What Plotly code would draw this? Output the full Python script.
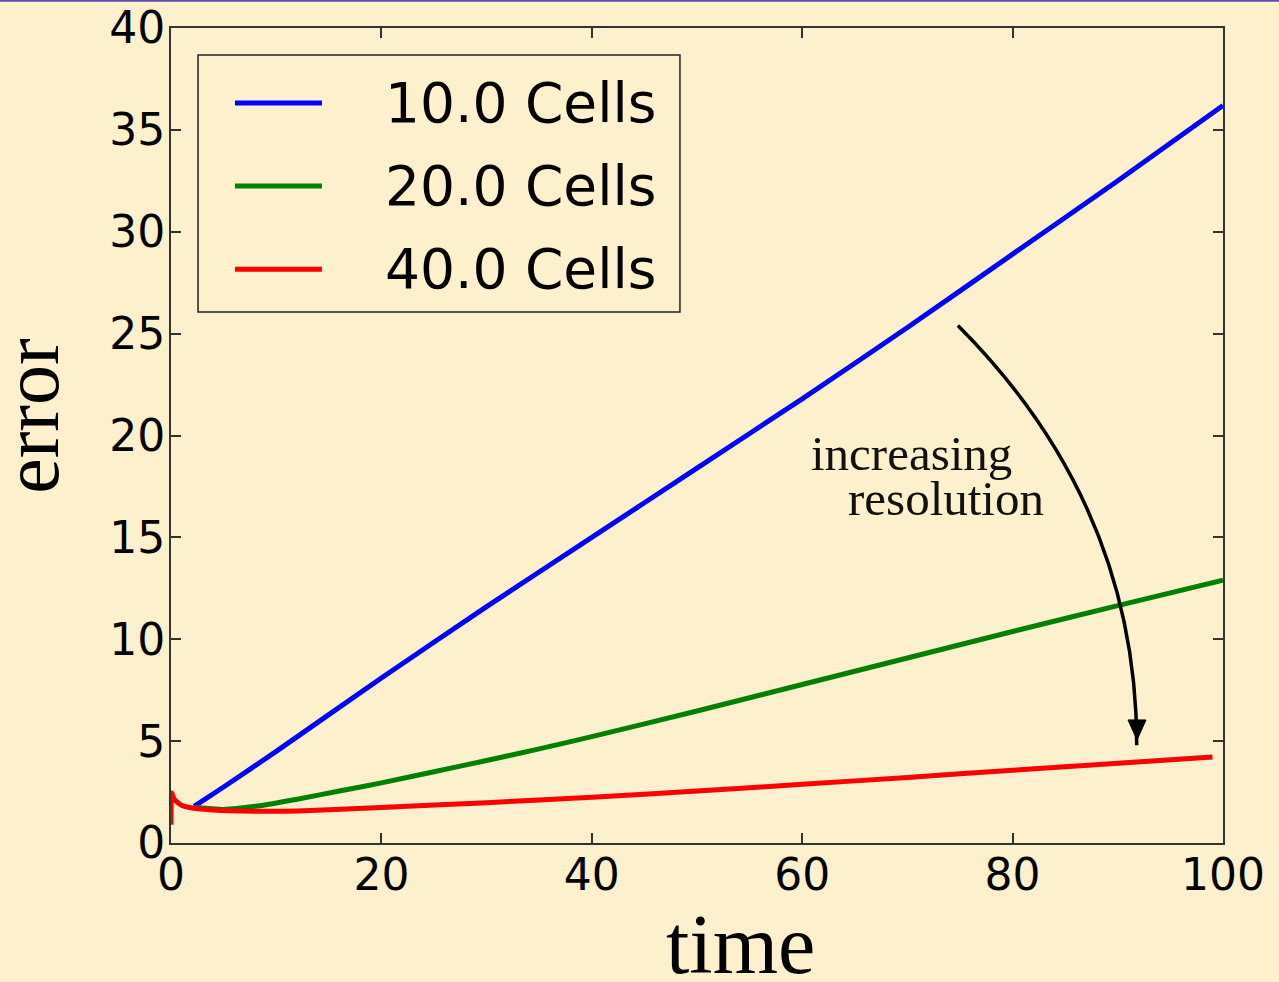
import plotly.graph_objects as go

# ---- data ----
series_names = ["10.0 Cells", "20.0 Cells", "40.0 Cells"]
series_colors = ["#0000FF", "#008000", "#FF0000"]

t_blue = [2.2, 5, 10, 20, 30, 40, 50, 60, 70, 80, 90, 100]
e_blue = [1.8, 2.75, 4.5, 8.1, 11.6, 15.0, 18.4, 21.8, 25.3, 28.9, 32.5, 36.2]

t_green = [2.2, 5, 8, 12, 16, 20, 25, 30, 35, 40, 50, 60, 70, 80, 90, 100]
e_green = [1.75, 1.65, 1.8, 2.15, 2.55, 2.95, 3.5, 4.05, 4.62, 5.22, 6.48, 7.78, 9.08, 10.38, 11.65, 12.9]

t_red = [0.0, 0.08, 0.3, 1, 2, 4, 8, 12, 20, 30, 40, 50, 60, 70, 80, 90, 99]
e_red = [0.9, 2.45, 2.15, 1.85, 1.72, 1.62, 1.56, 1.57, 1.74, 1.98, 2.24, 2.55, 2.88, 3.22, 3.57, 3.91, 4.22]

x_ticks = [0, 20, 40, 60, 80, 100]
y_ticks = [0, 5, 10, 15, 20, 25, 30, 35, 40]

BG = "#FDF0CD"
SERIF = "Liberation Serif, Times New Roman, serif"
SANS = "DejaVu Sans, sans-serif"

fig = go.Figure()
for tx, ey, name, col in zip([t_blue, t_green, t_red], [e_blue, e_green, e_red],
                             series_names, series_colors):
    fig.add_trace(go.Scatter(x=tx, y=ey, mode="lines", name=name,
                             line=dict(color=col, width=5, shape="spline", smoothing=0.6),
                             showlegend=False))

axis_common = dict(showline=True, linecolor="#333333", linewidth=2, mirror="ticks",
                   ticks="inside", ticklen=10, tickwidth=1.5, tickcolor="#333333",
                   showgrid=False, zeroline=False, automargin=False,
                   tickfont=dict(family=SANS, size=44, color="black"))

fig.update_layout(
    width=1279, height=982,
    margin=dict(l=171, r=56, t=28, b=139, autoexpand=False),
    paper_bgcolor=BG, plot_bgcolor=BG,
    xaxis=dict(range=[0, 100], tickvals=x_ticks, ticktext=[str(v) for v in x_ticks],
               ticklabelstandoff=-8, **axis_common),
    yaxis=dict(range=[0, 40], tickvals=y_ticks, ticktext=[str(v) for v in y_ticks],
               ticklabelstandoff=-5, **axis_common),
    showlegend=False,
)

shapes = []
annotations = []

# manual legend (matplotlib style)
shapes.append(dict(type="rect", xref="paper", yref="paper", x0=0.0257, x1=0.4838,
                   y0=0.6515, y1=0.9669, line=dict(color="#222222", width=1.5),
                   fillcolor=BG, layer="above"))
row_y = [0.908, 0.806, 0.704]
for name, col, ry in zip(series_names, series_colors, row_y):
    shapes.append(dict(type="line", xref="paper", yref="paper", x0=0.0608, x1=0.1435,
                       y0=ry, y1=ry, line=dict(color=col, width=5), layer="above"))
    annotations.append(dict(xref="paper", yref="paper", x=0.2015, y=ry, text=name,
                            showarrow=False, xanchor="left", yanchor="middle",
                            font=dict(family=SANS, size=55, color="black")))

# curved arrow
shapes.append(dict(type="path", xref="x", yref="y",
                   path="M 74.8,25.4 Q 91.8,16.6 91.8,4.8",
                   line=dict(color="black", width=3.5)))
shapes.append(dict(type="path", xref="x", yref="y",
                   path="M 90.97,6.04 L 92.68,6.04 L 91.83,5.06 Z",
                   line=dict(color="black", width=1), fillcolor="black"))

annotations.append(dict(xref="x", yref="y", x=70.4, y=19.1, text="increasing",
                        showarrow=False, xanchor="center", yanchor="middle",
                        font=dict(family=SERIF, size=49, color="#111111")))
annotations.append(dict(xref="x", yref="y", x=73.7, y=16.9, text="resolution",
                        showarrow=False, xanchor="center", yanchor="middle",
                        font=dict(family=SERIF, size=49, color="#111111")))

# axis titles
annotations.append(dict(xref="paper", yref="paper", x=0.5414, y=-0.124, text="time",
                        showarrow=False, xanchor="center", yanchor="middle",
                        font=dict(family=SERIF, size=84, color="black")))
annotations.append(dict(xref="paper", yref="paper", x=-0.133, y=0.523, text="error",
                        showarrow=False, xanchor="center", yanchor="middle", textangle=-90,
                        font=dict(family=SERIF, size=80, color="black")))

# thin slide border at the very top
shapes.append(dict(type="line", xref="paper", yref="paper", x0=-0.17, x1=1.06,
                   y0=1.0333, y1=1.0333, line=dict(color="#5A50A8", width=2)))

fig.update_layout(shapes=shapes, annotations=annotations)
fig.write_html("out.html")
